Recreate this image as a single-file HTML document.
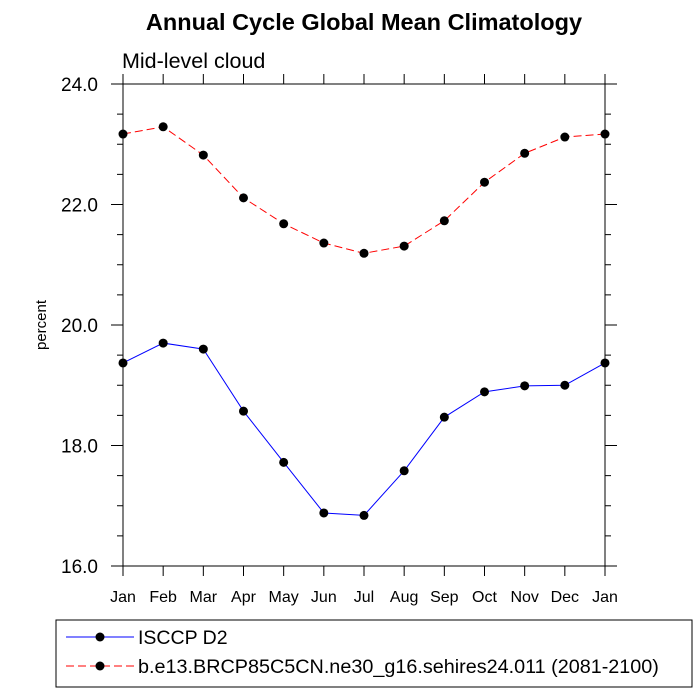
<!DOCTYPE html>
<html><head><meta charset="utf-8"><style>body{margin:0;background:#fff}svg{display:block}text{font-family:"Liberation Sans",sans-serif}</style></head>
<body>
<svg id="c" width="700" height="700"></svg>
<script>
const months=["Jan","Feb","Mar","Apr","May","Jun","Jul","Aug","Sep","Oct","Nov","Dec","Jan"];
const isccp=[19.37,19.70,19.60,18.57,17.72,16.88,16.84,17.58,18.47,18.89,18.99,19.00,19.37];
const model=[23.17,23.29,22.82,22.11,21.68,21.36,21.19,21.31,21.73,22.37,22.85,23.12,23.17];
const yTicks=[16,18,20,22,24];
const yMinor=[16.5,17,17.5,18.5,19,19.5,20.5,21,21.5,22.5,23,23.5];
const L=123,R=605,T=84,B=566,ymin=16,ymax=24;
const xs=i=>L+(R-L)*i/(months.length-1);
const ys=v=>B-(v-ymin)/(ymax-ymin)*(B-T);
const svg=document.getElementById('c');const NS="http://www.w3.org/2000/svg";
function el(t,a,txt){const e=document.createElementNS(NS,t);for(const k in a)e.setAttribute(k,a[k]);if(txt!==undefined)e.textContent=txt;svg.appendChild(e);return e;}
let e;
e=el('text',{x:364,y:30,'text-anchor':'middle','font-size':23.5,'font-weight':'bold'},'Annual Cycle Global Mean Climatology');


e=el('text',{x:122,y:68,'font-size':21.5},'Mid-level cloud');


e=el('text',{x:0,y:0,'font-size':15,'text-anchor':'middle',transform:'translate(46,325) rotate(-90)'},'percent');


e=el('rect',{x:L,y:T,width:R-L,height:B-T,fill:'none',stroke:'#000','stroke-width':1});


yTicks.forEach(v=>{const y=ys(v);
el('line',{x1:L-12,x2:L,y1:y,y2:y,stroke:'#000'});el('line',{x1:R,x2:R+12,y1:y,y2:y,stroke:'#000'});
e=el('text',{x:L-25,y:y+7,'text-anchor':'end','font-size':19},v.toFixed(1));

});
yMinor.forEach(v=>{const y=ys(v);el('line',{x1:L-6,x2:L,y1:y,y2:y,stroke:'#000'});el('line',{x1:R,x2:R+6,y1:y,y2:y,stroke:'#000'});});
months.forEach((m,i)=>{const x=xs(i);
el('line',{x1:x,x2:x,y1:B,y2:B+10,stroke:'#000'});el('line',{x1:x,x2:x,y1:T-10,y2:T,stroke:'#000'});
e=el('text',{x:x,y:B+36,'text-anchor':'middle','font-size':16},m);

});
function series(vals,color,dash,name){
e=el('polyline',{points:vals.map((v,i)=>xs(i)+','+ys(v)).join(' '),fill:'none',stroke:color,'stroke-width':1,'stroke-dasharray':dash});


vals.forEach((v,i)=>{e=el('circle',{cx:xs(i),cy:ys(v),r:4.5,fill:'#000'});

});}
series(model,'#f00','8,4','model');
series(isccp,'#00f','none','isccp');
e=el('rect',{x:56,y:620,width:636,height:67,fill:'none',stroke:'#000'});


el('line',{x1:66,x2:134,y1:637,y2:637,stroke:'#00f'});el('circle',{cx:100,cy:637,r:4.5,fill:'#000'});
e=el('text',{x:138,y:644,'font-size':19.5},'ISCCP D2');


el('line',{x1:66,x2:134,y1:666,y2:666,stroke:'#f00','stroke-dasharray':'8,4'});el('circle',{cx:100,cy:666,r:4.5,fill:'#000'});
e=el('text',{x:138,y:673,'font-size':19.8},'b.e13.BRCP85C5CN.ne30_g16.sehires24.011 (2081-2100)');


</script>
</body></html>
